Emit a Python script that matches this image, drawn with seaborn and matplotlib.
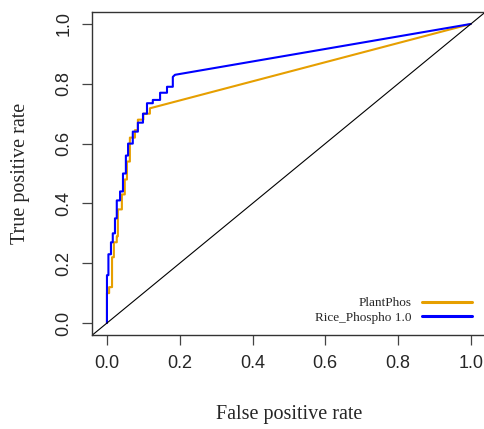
import pandas as pd
import numpy as np
import matplotlib
matplotlib.use("Agg")
import matplotlib.pyplot as plt
import seaborn as sns

sns.set_style("ticks")

# ROC curve corner points (false positive rate, true positive rate)
plantphos_fpr = [0, 0, 0.006, 0.006, 0.014, 0.014, 0.019, 0.019, 0.027, 0.027, 0.03, 0.03,
                 0.041, 0.041, 0.049, 0.049, 0.055, 0.055, 0.063, 0.063, 0.077, 0.077,
                 0.085, 0.085, 0.1, 0.1, 0.118, 0.118, 1.0]
plantphos_tpr = [0, 0.10, 0.10, 0.12, 0.12, 0.22, 0.22, 0.27, 0.27, 0.29, 0.29, 0.38,
                 0.38, 0.43, 0.43, 0.48, 0.48, 0.54, 0.54, 0.62, 0.62, 0.645,
                 0.645, 0.68, 0.68, 0.70, 0.70, 0.718, 1.0]

rice_fpr = [0, 0, 0.004, 0.004, 0.011, 0.011, 0.016, 0.016, 0.022, 0.022, 0.027, 0.027,
            0.036, 0.036, 0.044, 0.044, 0.052, 0.052, 0.058, 0.058, 0.071, 0.071,
            0.085, 0.085, 0.099, 0.099, 0.11, 0.11, 0.126, 0.126, 0.146, 0.146,
            0.165, 0.165, 0.181, 0.181, 0.187, 1.0]
rice_tpr = [0, 0.16, 0.16, 0.23, 0.23, 0.27, 0.27, 0.30, 0.30, 0.35, 0.35, 0.41,
            0.41, 0.44, 0.44, 0.50, 0.50, 0.56, 0.56, 0.60, 0.60, 0.64,
            0.64, 0.67, 0.67, 0.70, 0.70, 0.735, 0.735, 0.746, 0.746, 0.77,
            0.77, 0.79, 0.79, 0.823, 0.83, 1.0]

methods = ["PlantPhos", "Rice_Phospho 1.0"]
colors = ["#E69F00", "#0000FF"]

df = pd.concat([
    pd.DataFrame({"fpr": plantphos_fpr, "tpr": plantphos_tpr, "method": methods[0]}),
    pd.DataFrame({"fpr": rice_fpr, "tpr": rice_tpr, "method": methods[1]}),
], ignore_index=True)

fig = plt.figure(figsize=(4.84, 4.29), dpi=100)
W, H = 484, 429
ax = fig.add_axes([92.4 / W, (H - 335) / H, 393 / W, 323 / H])

sns.lineplot(data=df, x="fpr", y="tpr", hue="method", palette=colors,
             sort=False, estimator=None, linewidth=1.5, ax=ax)
ax.axline((0, 0), (1, 1), color="black", linewidth=0.8)

ax.set_xlim(-0.04, 1.04)
ax.set_ylim(-0.04, 1.04)
ticks = [0.0, 0.2, 0.4, 0.6, 0.8, 1.0]
ax.set_xticks(ticks)
ax.set_yticks(ticks)
ax.set_xticklabels(["%.1f" % t for t in ticks], fontsize=13, family="Liberation Sans")
ax.set_yticklabels(["%.1f" % t for t in ticks], fontsize=13, family="Liberation Sans",
                   rotation=90, va="center")
ax.tick_params(direction="out", length=7.5, width=0.9, color="#444444", pad=7)
for s in ax.spines.values():
    s.set_visible(True)
    s.set_color("#333333")
    s.set_linewidth(1.0)

ax.set_xlabel("False positive rate", fontsize=14.5, family="Liberation Serif", labelpad=24)
ax.set_ylabel("True positive rate", fontsize=14.5, family="Liberation Serif", labelpad=18)

leg = ax.legend(loc="lower right", bbox_to_anchor=(472 / W, (H - 324) / H),
                bbox_transform=fig.transFigure, frameon=False, markerfirst=False,
                prop={"family": "Liberation Serif", "size": 9.5},
                handlelength=3.8, handletextpad=0.75, labelspacing=0.2,
                borderpad=0, borderaxespad=0)
for t in leg.get_texts():
    t.set_ha("right")
for h in leg.get_lines():
    h.set_linewidth(2.2)

fig.savefig("out.png", dpi=100)
